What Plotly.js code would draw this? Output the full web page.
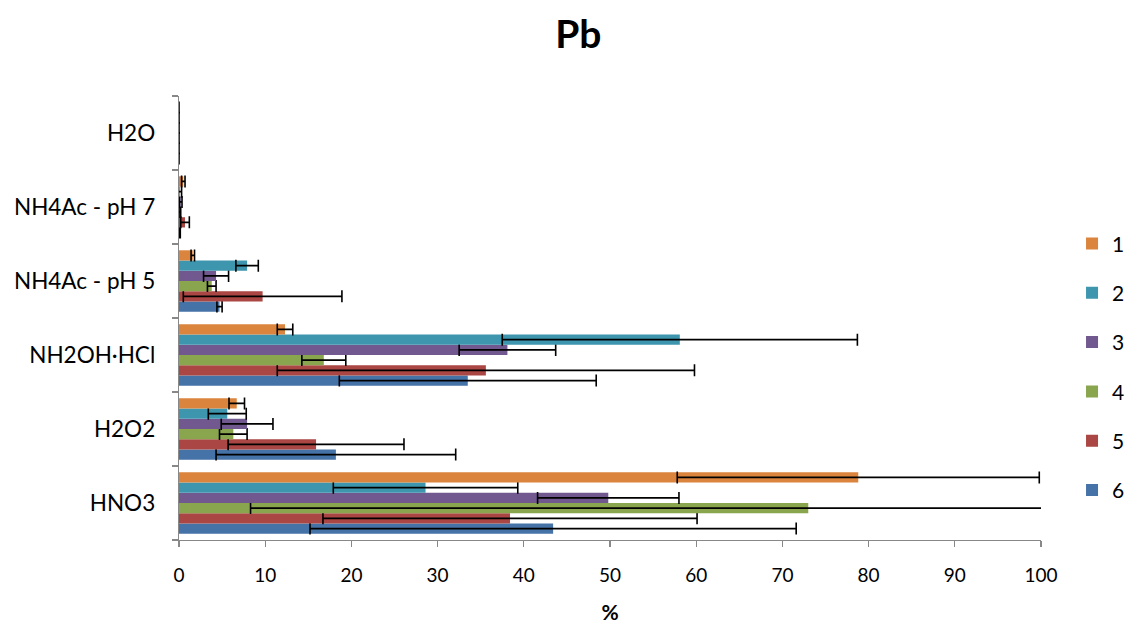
<!DOCTYPE html>
<html>
<head>
<meta charset="utf-8">
<script src="https://cdn.plot.ly/plotly-3.0.1.min.js"></script>
<style>html,body{margin:0;padding:0;background:#fff;}#chart{width:1143px;height:624px;}</style>
</head>
<body>
<div id="chart"></div>
<script>
// Categories, bottom to top
const categories = ["HNO3", "H2O2", "NH2OH·HCl", "NH4Ac - pH 5", "NH4Ac - pH 7", "H2O"];
const seriesNames = ["1", "2", "3", "4", "5", "6"];

// Values (%) per series, same order as categories
const s1 = [78.8, 6.7, 12.3, 1.6, 0.5, 0];
const s2 = [28.6, 5.6, 58.1, 7.9, 0.1, 0];
const s3 = [49.8, 7.9, 38.1, 4.3, 0.2, 0];
const s4 = [73.0, 6.3, 16.8, 3.8, 0.1, 0];
const s5 = [38.4, 15.9, 35.6, 9.7, 0.7, 0];
const s6 = [43.4, 18.2, 33.5, 4.7, 0.1, 0];

// Error (± %) per series
const e1 = [21.0, 0.9, 0.9, 0.2, 0.2, 0];
const e2 = [10.7, 2.2, 20.6, 1.3, 0.2, 0];
const e3 = [8.2, 3.0, 5.6, 1.45, 0.15, 0];
const e4 = [64.7, 1.6, 2.55, 0.5, 0.1, 0];
const e5 = [21.7, 10.2, 24.2, 9.2, 0.5, 0];
const e6 = [28.2, 13.9, 14.9, 0.3, 0.05, 0];

const colors = ["#DB843D", "#3D96AE", "#71588F", "#89A54E", "#AA4643", "#4572A7"];

const values = [s1, s2, s3, s4, s5, s6];
const errors = [e1, e2, e3, e4, e5, e6];

const FONT = "Lato, 'Open Sans', sans-serif";

// Draw series 6 first so it sits at the bottom of each group
const traces = [];
for (let i = 5; i >= 0; i--) {
  traces.push({
    type: "bar",
    orientation: "h",
    name: seriesNames[i],
    legendgroup: "g" + i,
    legendrank: i + 1,
    y: categories,
    x: values[i],
    marker: {color: colors[i], line: {width: 0}},
    error_x: {type: "data", array: errors[i], visible: true, color: "#000", thickness: 1.6, width: 6},
    hoverinfo: "x+name"
  });
}

const layout = {
  width: 1143, height: 624,
  margin: {l: 179, r: 102, t: 96, b: 84},
  paper_bgcolor: "#fff", plot_bgcolor: "#fff",
  font: {family: FONT, color: "#000", size: 19},
  title: {text: "<b>Pb</b>", font: {family: FONT, size: 39, color: "#000"}, x: 0.506, xref: "container", y: 0.945, yref: "container", yanchor: "middle"},
  barmode: "group",
  bargap: 0.17,
  bargroupgap: 0,
  xaxis: {
    range: [0, 100], dtick: 10, showgrid: false, zeroline: false,
    showline: true, linecolor: "#888", linewidth: 1.3,
    ticks: "outside", ticklen: 6, tickcolor: "#888", tickwidth: 1.3,
    ticklabelstandoff: 12,
    tickfont: {family: FONT, size: 19, color: "#000"},
    title: {text: "<b>%</b>", font: {family: FONT, size: 21, color: "#000"}, standoff: 22}
  },
  yaxis: {
    type: "category", categoryorder: "array", categoryarray: categories,
    showgrid: false, zeroline: false,
    showline: true, linecolor: "#888", linewidth: 1.3,
    ticks: "outside", ticklen: 6, tickcolor: "#888", tickwidth: 1.3,
    tickson: "boundaries",
    ticklabelstandoff: 18,
    tickfont: {family: FONT, size: 22.5, color: "#000"}
  },
  legend: {
    x: 1.036, xanchor: "left", y: 0.39, yanchor: "middle",
    traceorder: "grouped", tracegroupgap: 19,
    font: {family: FONT, size: 21, color: "#000"},
    bgcolor: "rgba(0,0,0,0)"
  },
  showlegend: true
};

Plotly.newPlot("chart", traces, layout, {staticPlot: true, displayModeBar: false});
</script>
</body>
</html>
